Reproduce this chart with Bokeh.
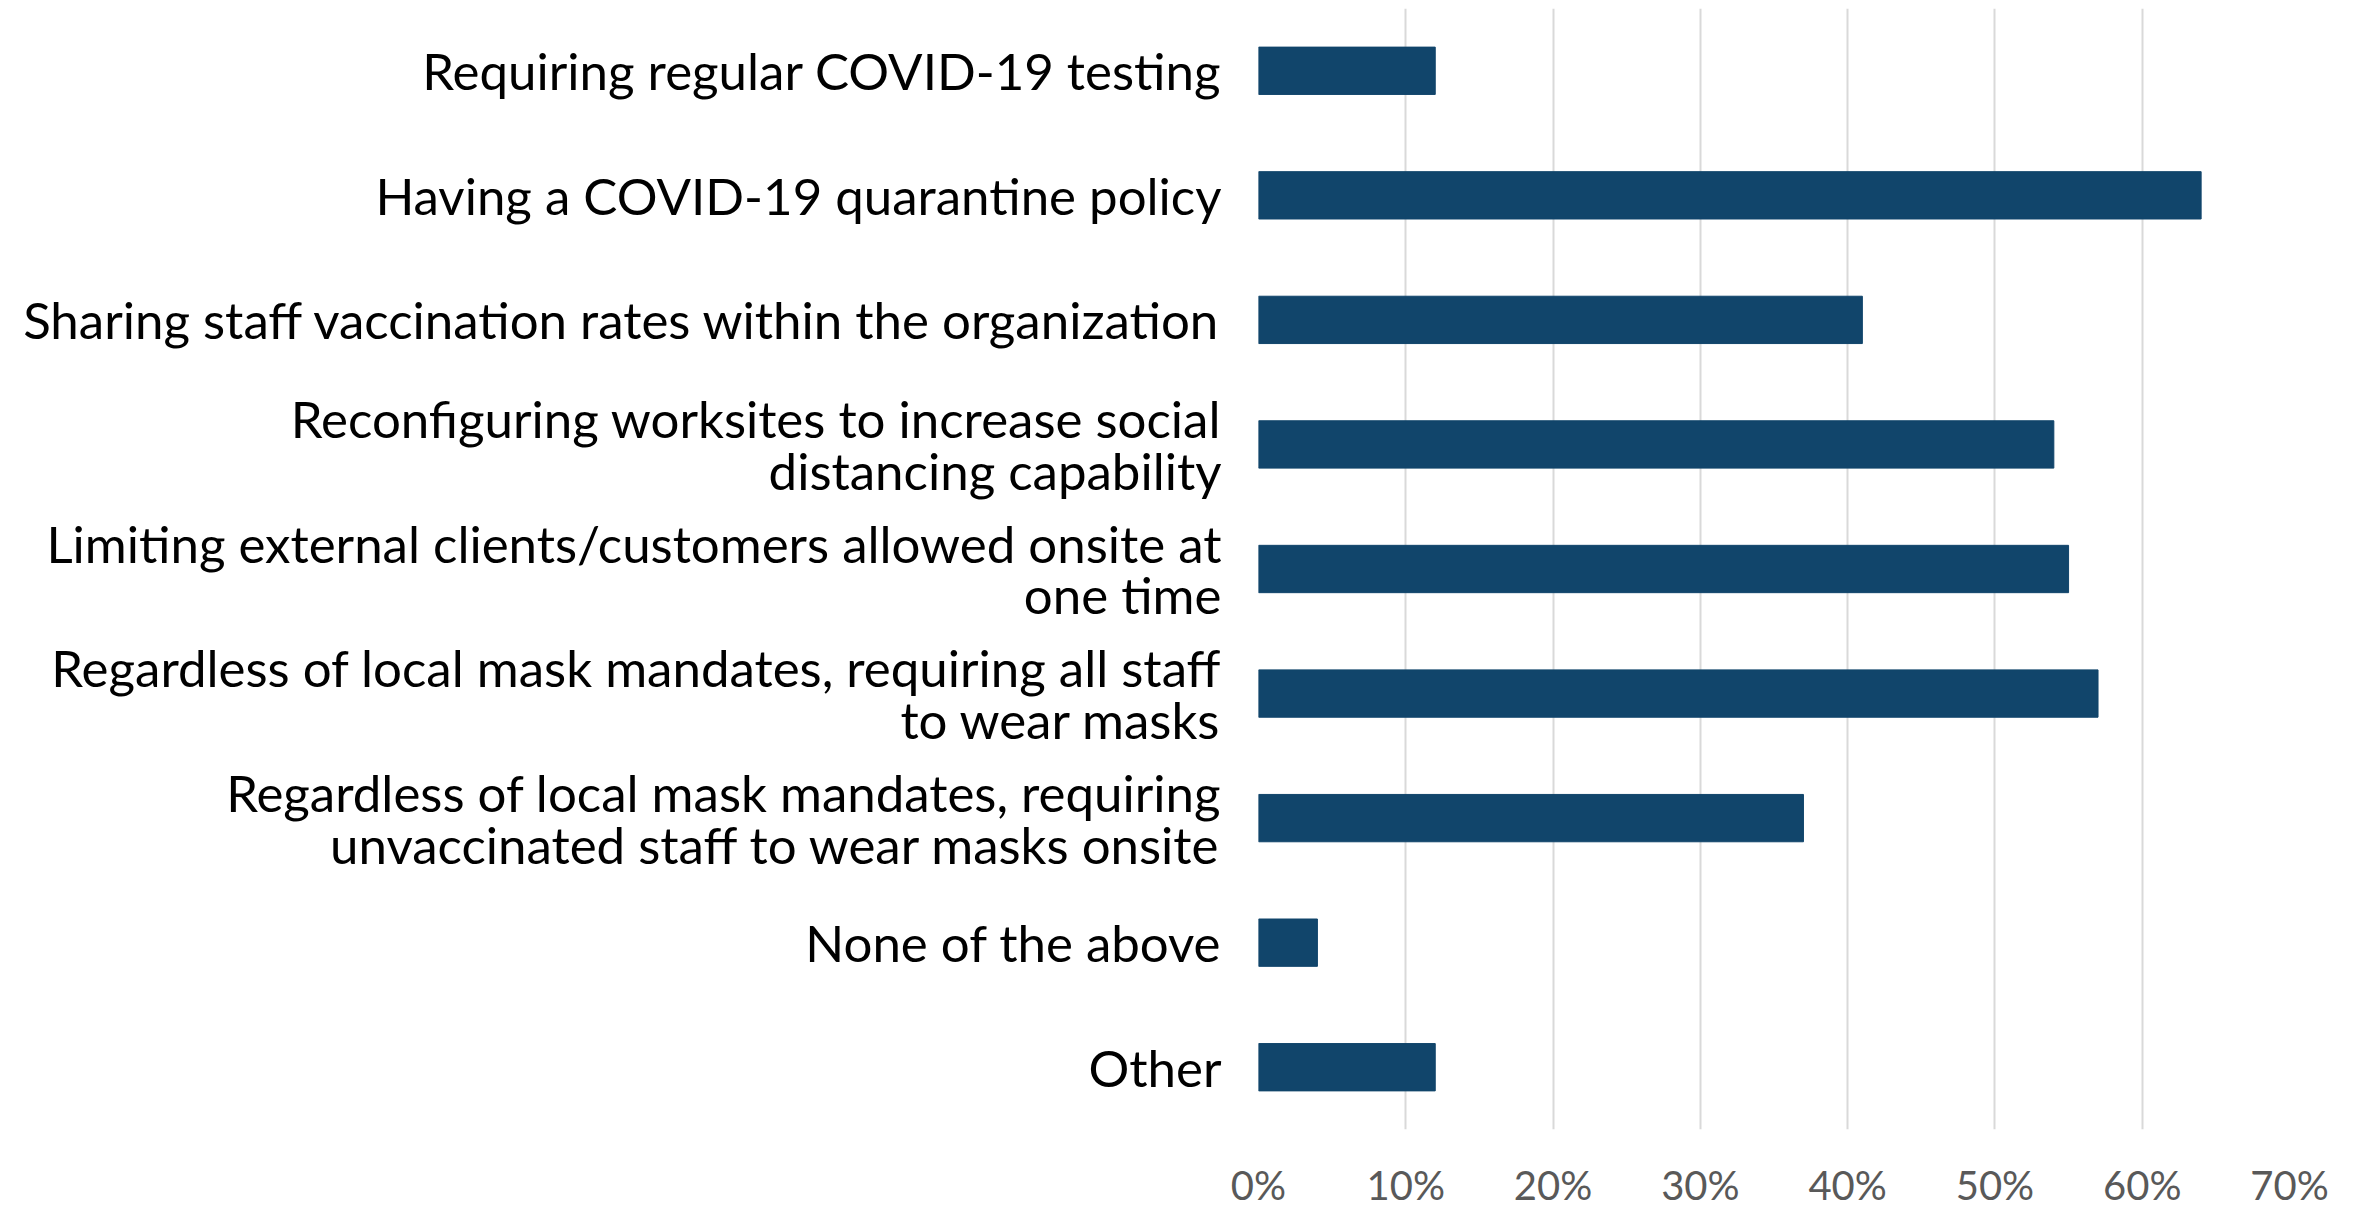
from bokeh.plotting import figure
from bokeh.models import Range1d, FactorRange, ColumnDataSource, NumeralTickFormatter, FixedTicker
from bokeh.embed import file_html
from bokeh.resources import INLINE

labels = [
    "Requiring regular COVID-19 testing",
    "Having a COVID-19 quarantine policy",
    "Sharing staff vaccination rates within the organization",
    "Reconfiguring worksites to increase social\ndistancing capability",
    "Limiting external clients/customers allowed onsite at\none time",
    "Regardless of local mask mandates, requiring all staff\nto wear masks",
    "Regardless of local mask mandates, requiring\nunvaccinated staff to wear masks onsite",
    "None of the above",
    "Other",
]
values = [0.12, 0.64, 0.41, 0.54, 0.55, 0.57, 0.37, 0.04, 0.12]
ticks = [0.0, 0.1, 0.2, 0.3, 0.4, 0.5, 0.6, 0.7]

src = ColumnDataSource(dict(cat=labels, val=values))

p = figure(width=2359, height=1211, output_backend="svg", toolbar_location=None,
           x_range=Range1d(0, 0.7), y_range=FactorRange(*reversed(labels)),
           min_border_left=1258, min_border_right=70, min_border_top=8, min_border_bottom=81)
p.hbar(y="cat", right="val", left=0, height=0.38, source=src, color="#11456B")

p.outline_line_color = None
p.background_fill_color = "white"
p.border_fill_color = "white"
p.ygrid.grid_line_color = None
p.xgrid.grid_line_color = "#D9D9D9"
p.xgrid.grid_line_width = 2
p.xaxis.ticker = FixedTicker(ticks=ticks)
p.xaxis.formatter = NumeralTickFormatter(format="0%")
p.xaxis.axis_line_color = None
p.xaxis.major_tick_line_color = None
p.xaxis.minor_tick_line_color = None
p.xaxis.major_tick_out = 0
p.xaxis.major_tick_in = 0
p.xaxis.minor_tick_out = 0
p.xaxis.major_label_text_font = "Lato"
p.xaxis.major_label_text_font_size = "40px"
p.xaxis.major_label_text_color = "#595959"
p.xaxis.major_label_standoff = 31

p.yaxis.axis_line_color = None
p.yaxis.major_tick_line_color = None
p.yaxis.minor_tick_line_color = None
p.yaxis.major_tick_out = 0
p.yaxis.major_tick_in = 0
p.yaxis.minor_tick_out = 0
p.yaxis.major_label_text_font = "Lato"
p.yaxis.major_label_text_font_size = "51px"
p.yaxis.major_label_text_line_height = 0.85
p.yaxis.major_label_text_color = "#000000"
p.yaxis.major_label_standoff = 37

open("out.html", "w").write(file_html(p, INLINE))
